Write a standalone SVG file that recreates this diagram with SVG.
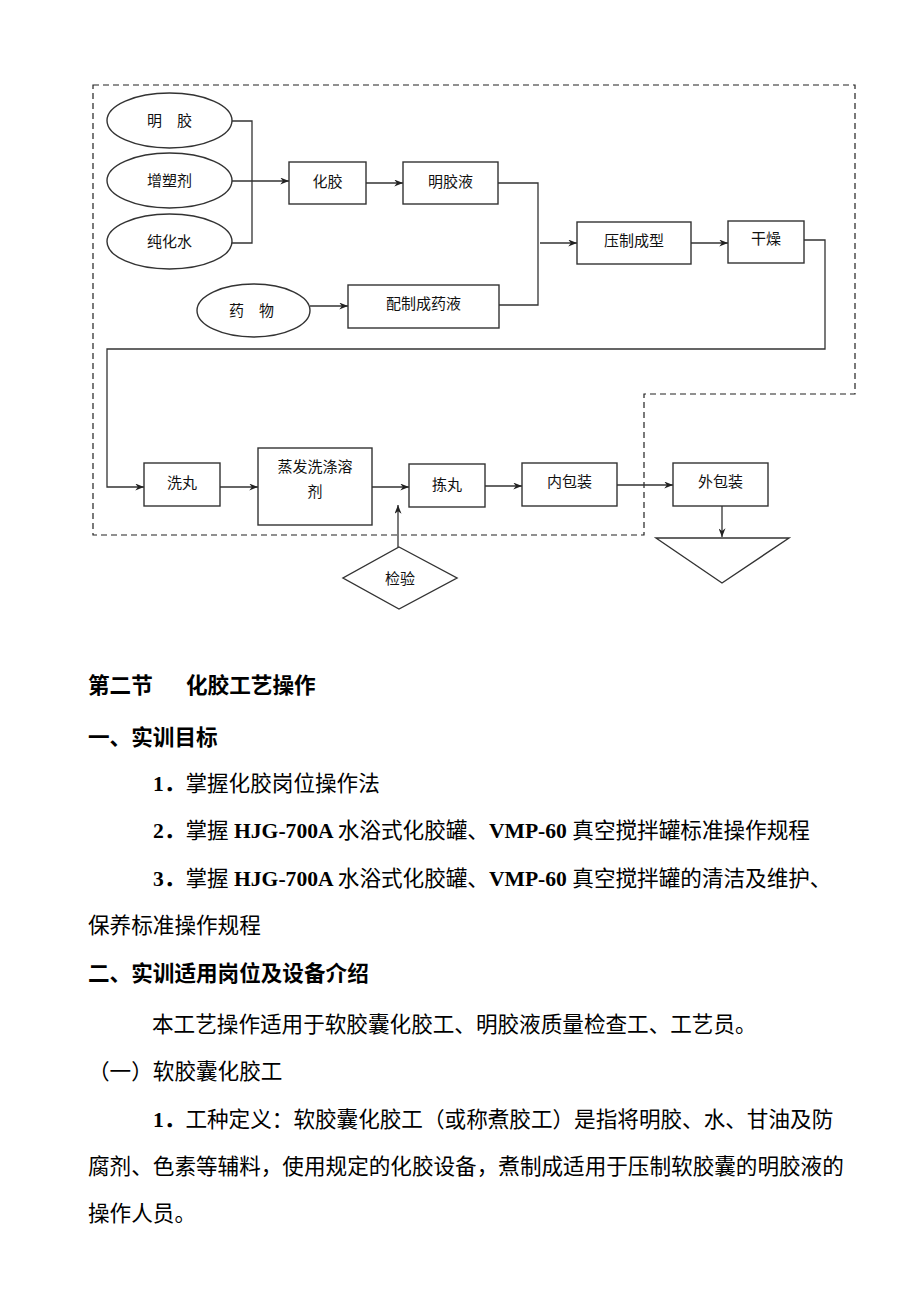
<svg xmlns="http://www.w3.org/2000/svg" width="920" height="1302" viewBox="0 0 920 1302">
<style>
.bg{fill:#fff}
.n{fill:#fff;stroke:#333;stroke-width:1.4}
.c{fill:none;stroke:#333;stroke-width:1.3}
.d{fill:none;stroke:#222;stroke-width:1.2;stroke-dasharray:6 4}
.t{font-family:"Noto Sans CJK SC","Liberation Sans",sans-serif;font-size:15px;fill:#111;text-anchor:middle}
.b{font-family:"Noto Sans CJK SC",sans-serif;font-size:21.6px;fill:#000}
.h{font-weight:bold}
.l{font-family:"Liberation Serif","Noto Sans CJK SC",serif;font-weight:bold}
</style>
<defs>
<marker id="ar" viewBox="0 0 10 8" refX="10" refY="4" markerWidth="9" markerHeight="7" markerUnits="userSpaceOnUse" orient="auto">
<path d="M0,0 L10,4 L0,8 L3,4 Z" fill="#222"/>
</marker>
</defs>
<rect class="bg" x="0" y="0" width="920" height="1302"/>

<g id="boundary">
<path class="d" d="M93,85 H855 V394 H644 V535 H93 Z"/>
</g>

<g id="connectors">
<path class="c" d="M232,121 H252 V243 H232"/>
<path class="c" d="M232,181 H289" marker-end="url(#ar)"/>
<path class="c" d="M366,183 H403" marker-end="url(#ar)"/>
<path class="c" d="M498,183 H538 V305 H499"/>
<path class="c" d="M310,306 H348" marker-end="url(#ar)"/>
<path class="c" d="M540,243 H577" marker-end="url(#ar)"/>
<path class="c" d="M691,243 H728" marker-end="url(#ar)"/>
<path class="c" d="M804,240 H825 V349 H107 V487 H144" marker-end="url(#ar)"/>
<path class="c" d="M220,487 H258" marker-end="url(#ar)"/>
<path class="c" d="M372,487 H409" marker-end="url(#ar)"/>
<path class="c" d="M398,547 V505" marker-end="url(#ar)"/>
<path class="c" d="M485,486 H522" marker-end="url(#ar)"/>
<path class="c" d="M617,485 H673" marker-end="url(#ar)"/>
<path class="c" d="M722,506 V537" marker-end="url(#ar)"/>
</g>

<g id="n-mingjiao"><ellipse class="n" cx="169.5" cy="120.5" rx="62.5" ry="27.5"/><text class="t" x="169.5" y="126">明　胶</text></g>
<g id="n-zengsuji"><ellipse class="n" cx="169.5" cy="180.5" rx="62.5" ry="27.5"/><text class="t" x="169.5" y="186">增塑剂</text></g>
<g id="n-chunhuashui"><ellipse class="n" cx="169.5" cy="241.5" rx="62.5" ry="27.5"/><text class="t" x="169.5" y="247">纯化水</text></g>
<g id="n-yaowu"><ellipse class="n" cx="253.5" cy="310.5" rx="56.5" ry="26.5"/><text class="t" x="251.5" y="316">药　物</text></g>
<g id="n-huajiao"><rect class="n" x="289" y="162" width="77" height="42"/><text class="t" x="327.5" y="187">化胶</text></g>
<g id="n-mingjiaoye"><rect class="n" x="403" y="162" width="95" height="42"/><text class="t" x="450.5" y="187">明胶液</text></g>
<g id="n-peizhi"><rect class="n" x="348" y="285" width="151" height="43"/><text class="t" x="423.5" y="309">配制成药液</text></g>
<g id="n-yazhi"><rect class="n" x="577" y="222" width="114" height="42"/><text class="t" x="634" y="246">压制成型</text></g>
<g id="n-ganzao"><rect class="n" x="728" y="221" width="76" height="42"/><text class="t" x="766" y="244">干燥</text></g>
<g id="n-xiwan"><rect class="n" x="144" y="463" width="76" height="43"/><text class="t" x="182" y="488">洗丸</text></g>
<g id="n-zhengfa"><rect class="n" x="258" y="448" width="114" height="77"/><text class="t" x="315" y="472">蒸发洗涤溶</text><text class="t" x="315" y="497">剂</text></g>
<g id="n-jianwan"><rect class="n" x="409" y="464" width="76" height="43"/><text class="t" x="447" y="490">拣丸</text></g>
<g id="n-neibaozhuang"><rect class="n" x="522" y="463" width="95" height="43"/><text class="t" x="569.5" y="487">内包装</text></g>
<g id="n-waibaozhuang"><rect class="n" x="673" y="463" width="95" height="43"/><text class="t" x="720.5" y="487">外包装</text></g>
<g id="n-jianyan"><polygon class="n" points="399,547 457,578 399,609 343,578"/><text class="t" x="400" y="584">检验</text></g>
<g id="n-store"><polygon class="n" points="656,538 789,538 722,583"/></g>

<g id="body">
<text class="b h" x="88" y="693">第二节<tspan x="186">化胶工艺操作</tspan></text>
<text class="b h" x="88" y="745">一、实训目标</text>
<text class="b" x="153" y="791"><tspan class="l">1</tspan><tspan class="h">．</tspan>掌握化胶岗位操作法</text>
<text class="b" x="153" y="838"><tspan class="l">2</tspan><tspan class="h">．</tspan>掌握<tspan class="l"> HJG-700A </tspan>水浴式化胶罐、<tspan class="l">VMP-60 </tspan>真空搅拌罐标准操作规程</text>
<text class="b" x="153" y="886"><tspan class="l">3</tspan><tspan class="h">．</tspan>掌握<tspan class="l"> HJG-700A </tspan>水浴式化胶罐、<tspan class="l">VMP-60 </tspan>真空搅拌罐的清洁及维护、</text>
<text class="b" x="88" y="933">保养标准操作规程</text>
<text class="b h" x="88" y="981">二、实训适用岗位及设备介绍</text>
<text class="b" x="152" y="1032">本工艺操作适用于软胶囊化胶工、明胶液质量检查工、工艺员。</text>
<text class="b" x="88" y="1079">（一）软胶囊化胶工</text>
<text class="b" x="153" y="1127"><tspan class="l">1</tspan><tspan class="h">．</tspan>工种定义：软胶囊化胶工（或称煮胶工）是指将明胶、水、甘油及防</text>
<text class="b" x="88" y="1174">腐剂、色素等辅料，使用规定的化胶设备，煮制成适用于压制软胶囊的明胶液的</text>
<text class="b" x="88" y="1221">操作人员。</text>
</g>
</svg>
